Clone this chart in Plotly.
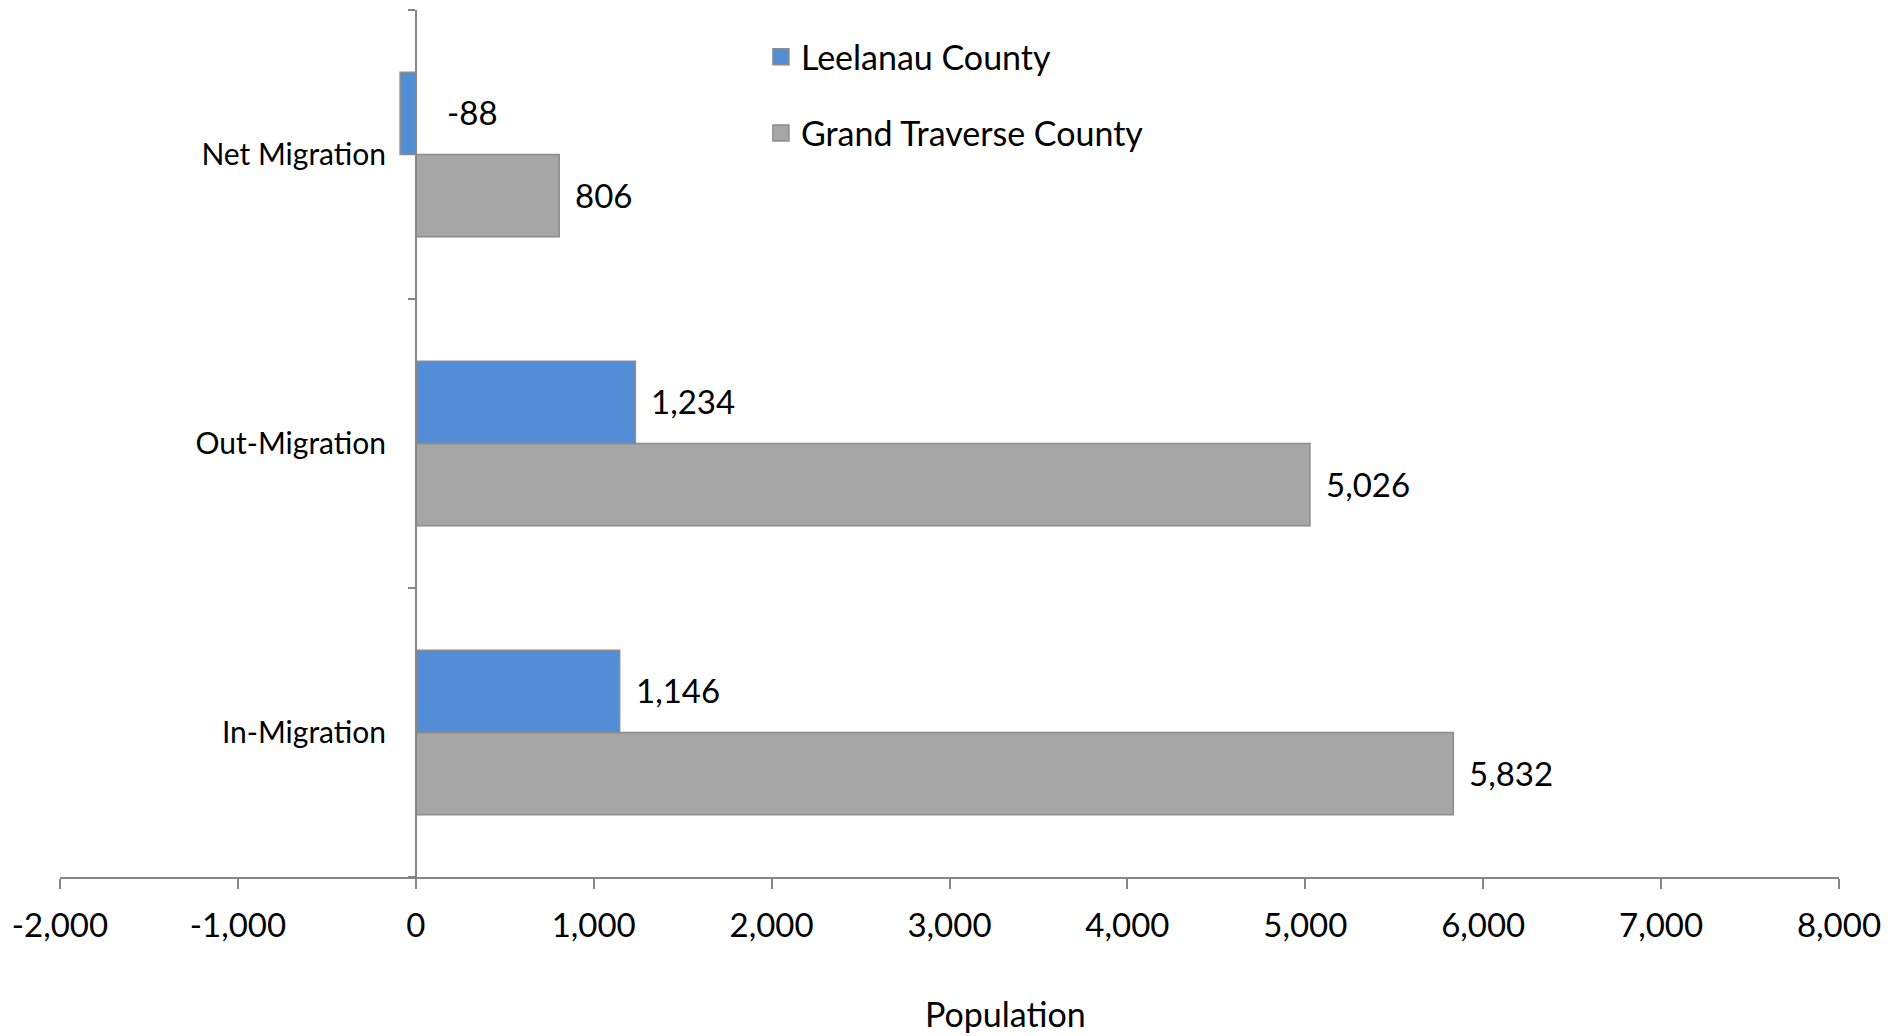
import plotly.graph_objects as go

categories = ["In-Migration", "Out-Migration", "Net Migration"]
leelanau = [1146, 1234, -88]
grand_traverse = [5832, 5026, 806]
series_names = ["Leelanau County", "Grand Traverse County"]
x_tick_vals = [-2000, -1000, 0, 1000, 2000, 3000, 4000, 5000, 6000, 7000, 8000]
x_tick_text = ["-2,000", "-1,000", "0", "1,000", "2,000", "3,000", "4,000", "5,000", "6,000", "7,000", "8,000"]
x_title = "Population"

BLUE = "#538DD5"
GRAY = "#A6A6A6"
EDGE = "#8C8C8C"
AXIS = "#868686"
FONT = "Lato"

W, H = 1904, 1036
ML, MR, MT, MB = 60, 65, 10, 159
plot_h = H - MT - MB
bargap = 0.43
band = plot_h / len(categories)
bar_h = band * (1 - bargap) / 2

fig = go.Figure()
fig.add_trace(go.Bar(y=categories, x=grand_traverse, orientation="h", name=series_names[1],
                     marker=dict(color=GRAY, line=dict(color=EDGE, width=1.5)), showlegend=False))
fig.add_trace(go.Bar(y=categories, x=leelanau, orientation="h", name=series_names[0],
                     marker=dict(color=BLUE, line=dict(color=EDGE, width=1.5)), showlegend=False))

# legend entries
for name, col in zip(series_names, [BLUE, GRAY]):
    fig.add_trace(go.Scatter(x=[None], y=[None], mode="markers", name=name, legendgroup=name,
                             marker=dict(symbol="square", size=16, color=col, line=dict(color=EDGE, width=1.5))))

annotations = []
for vals, shift in [(leelanau, bar_h / 2), (grand_traverse, -bar_h / 2)]:
    for cat, v in zip(categories, vals):
        annotations.append(dict(x=max(v, 0), y=cat, xref="x", yref="y", text=f"{v:,}",
                                showarrow=False, xanchor="left", yanchor="middle",
                                xshift=14 if v >= 0 else 29, yshift=shift + 1,
                                font=dict(family=FONT, size=33, color="black")))
annotations.append(dict(x=0.5315, y=-0.158, xref="paper", yref="paper", text=x_title,
                        showarrow=False, xanchor="center", yanchor="middle",
                        font=dict(family=FONT, size=34, color="black")))

fig.update_layout(
    width=W, height=H,
    margin=dict(l=ML, r=MR, t=MT, b=MB),
    paper_bgcolor="white", plot_bgcolor="white",
    barmode="group", bargap=bargap, bargroupgap=0,
    font=dict(family=FONT, size=33, color="black"),
    annotations=annotations,
    legend=dict(x=0.394, y=0.979, xanchor="left", yanchor="top", traceorder="grouped",
                tracegroupgap=29, font=dict(family=FONT, size=34, color="black"),
                bgcolor="rgba(0,0,0,0)"),
    xaxis=dict(range=[-2000, 8000], tickvals=x_tick_vals, ticktext=x_tick_text,
               showgrid=False, zeroline=False, showline=True, linecolor=AXIS, linewidth=1.5,
               ticks="outside", ticklen=10, tickcolor=AXIS, tickwidth=1.5,
               ticklabelstandoff=9,
               tickfont=dict(family=FONT, size=33, color="black")),
    yaxis=dict(categoryorder="array", categoryarray=categories, anchor="free", position=0.2,
               showgrid=False, zeroline=False, showline=True, linecolor=AXIS, linewidth=1.5,
               ticks="outside", ticklen=7, tickcolor=AXIS, tickwidth=1.5, tickson="boundaries",
               ticklabelstandoff=23,
               tickfont=dict(family=FONT, size=30, color="black")),
)

fig.write_html("out.html")
